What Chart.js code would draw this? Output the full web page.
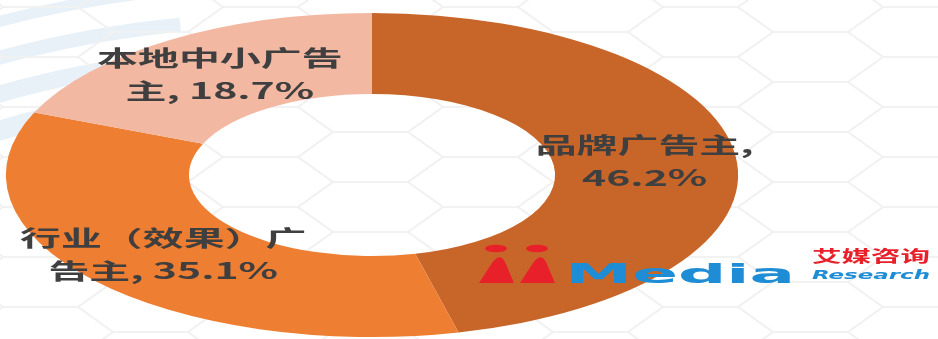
<!DOCTYPE html>
<html>
<head>
<meta charset="utf-8">
<script src="https://cdn.jsdelivr.net/npm/chart.js@4.4.1/dist/chart.umd.min.js"></script>
<style>
  html, body { margin: 0; padding: 0; background: #fff; }
  #wrap { width: 938px; height: 339px; position: relative; }
</style>
</head>
<body>
<div id="wrap"><canvas id="adChart"></canvas></div>
<script>
// 广告主类型占比
const categories = ['品牌广告主', '行业（效果）广告主', '本地中小广告主'];
const shares = [46.2, 35.1, 18.7];
const sliceColors = ['#c8662a', '#ee7e32', '#f2b8a2'];
// 标签换行位置（字符数）
const wrapAt = [6, 7, 6];

// 原图是横向拉伸的
const STRETCH_X = 2.26;
const TEXT_X = 1.86;

/**
 * 背景：六边形纹理 + 左上角浅蓝色弧带
 */
const backgroundPlugin = {
  id: 'bgPattern',
  beforeDraw(chart) {
    const ctx = chart.ctx;
    ctx.save();
    ctx.fillStyle = '#ffffff';
    ctx.fillRect(0, 0, chart.width, chart.height);

    // 浅蓝弧带
    ctx.strokeStyle = 'rgba(205, 224, 240, 0.45)';
    [990, 1025, 1060, 1095].forEach((r, i) => {
      ctx.lineWidth = 20 - i * 3;
      ctx.beginPath();
      ctx.arc(280, 1080, r, Math.PI * 1.05, Math.PI * 1.47);
      ctx.stroke();
    });

    // 六边形网格
    ctx.strokeStyle = '#f1f1f1';
    ctx.lineWidth = 1.6;
    for (let c = -1; c < 10; c++) {
      const x0 = c * 110 + 3;
      const yOff = (c % 2 === 0) ? 7 : 32;
      for (let r = -1; r < 8; r++) {
        const y0 = r * 50 + yOff;
        ctx.beginPath();
        ctx.moveTo(x0, y0);
        ctx.lineTo(x0 + 75, y0);
        ctx.lineTo(x0 + 110, y0 + 25);
        ctx.lineTo(x0 + 75, y0 + 50);
        ctx.lineTo(x0, y0 + 50);
        ctx.lineTo(x0 - 35, y0 + 25);
        ctx.closePath();
        ctx.stroke();
      }
    }
    ctx.restore();
  }
};

/**
 * 横向拉伸圆环 + 扇区标签
 */
const stretchPlugin = {
  id: 'stretch',
  beforeDatasetsDraw(chart) {
    const arc = chart.getDatasetMeta(0).data[0];
    const ctx = chart.ctx;
    ctx.save();
    ctx.translate(arc.x, arc.y);
    ctx.scale(STRETCH_X, 1);
    ctx.translate(-arc.x, -arc.y);
  },
  afterDatasetsDraw(chart) {
    const ctx = chart.ctx;
    ctx.restore();

    const meta = chart.getDatasetMeta(0);
    ctx.save();
    ctx.fillStyle = '#3f3f3f';
    ctx.font = 'bold 22px "Noto Sans CJK SC"';
    ctx.textAlign = 'center';
    ctx.textBaseline = 'middle';
    meta.data.forEach((arc, i) => {
      const pos = arc.tooltipPosition();
      const x = arc.x + (pos.x - arc.x) * STRETCH_X;
      const y = pos.y;
      const text = categories[i] + ', ' + shares[i].toFixed(1) + '%';
      const lines = [text.slice(0, wrapAt[i]).trim(), text.slice(wrapAt[i]).trim()];
      ctx.save();
      ctx.translate(x, y);
      ctx.scale(TEXT_X, 1);
      ctx.fillText(lines[0], 0, -16);
      ctx.fillText(lines[1], 0, 17);
      ctx.restore();
    });
    ctx.restore();
  }
};

/**
 * 水印 logo
 */
function fitText(ctx, text, left, y, width) {
  const w = ctx.measureText(text).width;
  ctx.save();
  ctx.translate(left, y);
  ctx.scale(width / w, 1);
  ctx.fillText(text, 0, 0);
  ctx.restore();
}

const logoPlugin = {
  id: 'logo',
  afterDraw(chart) {
    const ctx = chart.ctx;
    ctx.save();
    ctx.fillStyle = '#e8202a';
    [0, 41].forEach(dx => {
      ctx.beginPath();
      ctx.ellipse(496 + dx, 248.5, 11, 3.8, 0, 0, Math.PI * 2);
      ctx.fill();
      ctx.beginPath();
      ctx.moveTo(479 + dx, 283);
      ctx.lineTo(492 + dx, 263);
      ctx.quadraticCurveTo(500 + dx, 252, 505 + dx, 262);
      ctx.lineTo(514 + dx, 283);
      ctx.closePath();
      ctx.fill();
    });

    ctx.textBaseline = 'alphabetic';
    ctx.fillStyle = '#1f8dd6';
    ctx.font = 'bold 26px "DejaVu Sans"';
    fitText(ctx, 'Media', 565, 283, 230);

    ctx.fillStyle = '#e8202a';
    ctx.font = 'bold 16px "Noto Sans CJK SC"';
    ctx.textBaseline = 'middle';
    fitText(ctx, '艾媒咨询', 812, 256, 118);

    ctx.fillStyle = '#1f8dd6';
    ctx.font = 'italic bold 13px "DejaVu Sans"';
    fitText(ctx, 'Research', 812, 276, 118);
    ctx.restore();
  }
};

const ctx = document.getElementById('adChart');
new Chart(ctx, {
  type: 'doughnut',
  data: {
    labels: categories,
    datasets: [{
      data: shares,
      backgroundColor: sliceColors,
      borderWidth: 0
    }]
  },
  options: {
    responsive: true,
    maintainAspectRatio: false,
    animation: false,
    events: [],
    cutout: '50%',
    layout: {
      padding: { left: 0, right: 194, top: 13, bottom: 2 }
    },
    plugins: {
      legend: { display: false },
      tooltip: { enabled: false }
    }
  },
  plugins: [backgroundPlugin, stretchPlugin, logoPlugin]
});
</script>
</body>
</html>
